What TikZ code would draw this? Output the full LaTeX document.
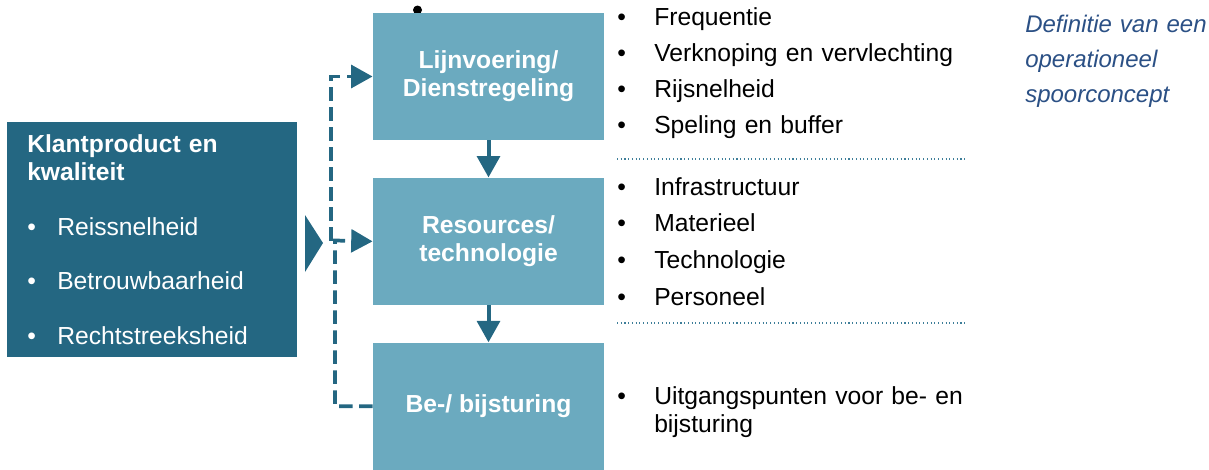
\documentclass[tikz,border=0pt]{standalone}
\usepackage{fontspec}
\setmainfont{Liberation Sans}
\usetikzlibrary{positioning}
\usetikzlibrary{arrows.meta}
\definecolor{kpblauw}{HTML}{246782}
\definecolor{blokblauw}{HTML}{6BAABF}
\definecolor{defblauw}{HTML}{2B5085}
\definecolor{lijnblauw}{HTML}{3E7E99}
\newcommand{\bol}[1]{\makebox[#1][l]{\textbullet}}

\begin{document}
\begin{tikzpicture}[x=0.75pt,y=-0.75pt,
	blok/.style={fill=blokblauw,text=white,font=\fontsize{18.5}{21}\selectfont\bfseries,align=center,minimum width=173.5pt,minimum height=95.5pt,inner sep=0pt},
	pijl/.style={kpblauw,line width=3pt,-{Triangle[length=16pt,width=17pt]}},
	terug/.style={kpblauw,line width=2.8pt,dash pattern=on 10pt off 5pt,-{Triangle[length=16pt,width=17pt]}},
	lijst/.style={font=\fontsize{18.5}{27}\selectfont,align=left,anchor=base west,inner sep=0pt,text width=300pt},
	scheiding/.style={lijnblauw,line width=0.8pt,dotted}]
			\useasboundingbox (0,0) rectangle (1209,469);
			\fill (417.5,10) circle [radius=4.5];
			
			\node[fill=kpblauw,text=white,anchor=north west,minimum width=217.5pt,minimum height=176.25pt,text width=187.5pt,inner xsep=15pt,inner ysep=0pt,align=left,font=\fontsize{18.5}{21}\selectfont] (kp) at (7,122)
			{{\bfseries Klantproduct en\\kwaliteit}\\[20.25pt]
			\bol{22.5pt}Reissnelheid\\[19.5pt]
			\bol{22.5pt}Betrouwbaarheid\\[20.25pt]
			\bol{22.5pt}Rechtstreeksheid};
			\fill[kpblauw] (305,215) -- (323,243) -- (305,272) -- cycle;
			
			\node[blok] (lijn) at (488.5,76.5) {Lijnvoering/\\Dienstregeling};
			\node[blok,below=27.75pt of lijn] (res) {Resources/\\technologie};
			\node[blok,below=27.75pt of res] (bij) {Be-/ bijsturing};
			
			\draw[pijl] (lijn) -- (res);
			\draw[pijl] (res) -- (bij);
			
			\coordinate (knikonder) at (335,240.5);
			\coordinate (knikboven) at (331,240.5);
			\draw[terug] (bij.west) -| (knikonder) -- (res.west);
			\draw[terug] (knikboven) |- (lijn.west);
			
			\node[lijst] (lijst1) at (617,25)
			{\bol{27.75pt}Frequentie\\
			\bol{27.75pt}Verknoping en vervlechting\\
			\bol{27.75pt}Rijsnelheid\\
			\bol{27.75pt}Speling en buffer};
			\node[lijst,font=\fontsize{18.5}{27.5}\selectfont] (lijst2) at (617,195)
			{\bol{27.75pt}Infrastructuur\\
			\bol{27.75pt}Materieel\\
			\bol{27.75pt}Technologie\\
			\bol{27.75pt}Personeel};
			\node[lijst,font=\fontsize{18.5}{21}\selectfont] (lijst3) at (617,404)
			{\bol{27.75pt}Uitgangspunten voor be- en\\
			\hspace*{27.75pt}bijsturing};
			\draw[scheiding] (617,159) -- (966,159);
			\draw[scheiding] (617,323) -- (966,323);
			
			\node[anchor=base west,align=left,text width=140pt,inner sep=0pt,text=defblauw,font=\fontsize{18}{26.25}\selectfont\itshape] (def) at (1025,32)
			{Definitie van een\\operationeel\\spoorconcept};
		\end{tikzpicture}
\end{document}
